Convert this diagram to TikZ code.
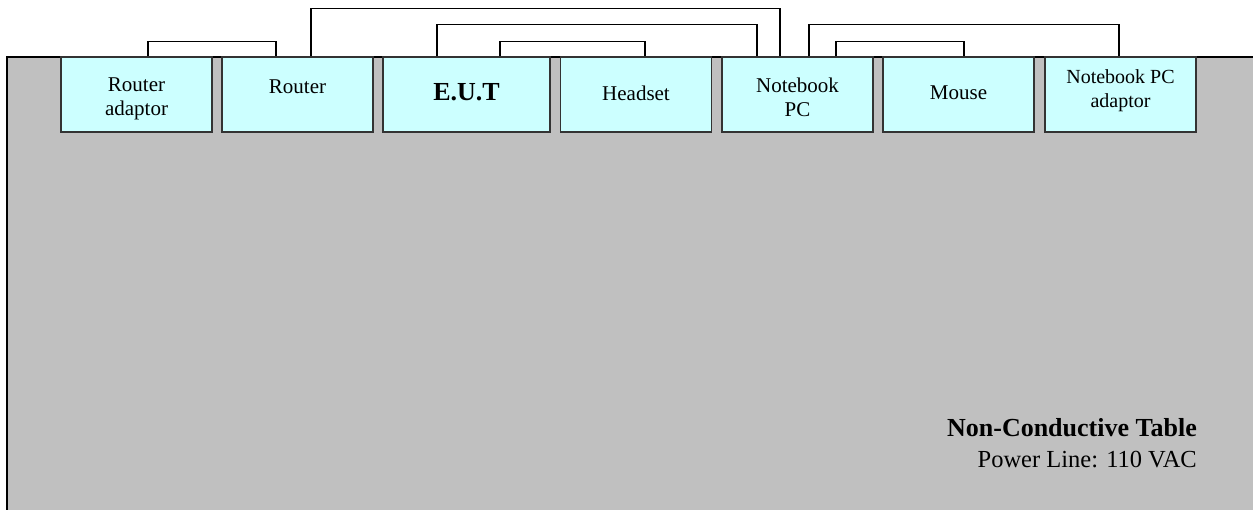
\documentclass[tikz,border=0pt]{standalone}
\usepackage{fontspec}
\setmainfont{Liberation Serif}
\definecolor{tablegray}{HTML}{C0C0C0}
\definecolor{boxcyan}{HTML}{CCFFFF}
\definecolor{boxline}{HTML}{333333}

\begin{document}
\begin{tikzpicture}[x=1pt,y=-1pt,
    box/.style={draw=boxline,line width=1.3pt,fill=boxcyan,minimum width=151pt,minimum height=75pt,inner sep=0pt},
    txt/.style={align=center,inner sep=0pt,font=\fontsize{21}{24}\selectfont},
    cable/.style={black,line width=1.5pt}]
    \useasboundingbox (0,0) rectangle (1253,509);
    \clip (0,0) rectangle (1253,509);
    % table
    \fill[tablegray] (7,57) rectangle (1260,520);
    \draw[black,line width=2pt] (7,520) -- (7,57) -- (1260,57);
    % equipment
    \node[box] (ra) at (136.5,94.5) {};
    \node[box] (rt) at (297.5,94.5) {};
    \node[box,minimum width=167pt] (eut) at (466.5,94.5) {};
    \node[box] (hs) at (636,94.5) {};
    \node[box] (nb) at (797.5,94.5) {};
    \node[box] (ms) at (958.5,94.5) {};
    \node[box] (nba) at (1120.5,94.5) {};
    \node[txt] (ra-t) at (ra.center) [yshift=-4.5] {Router\\adaptor};
    \node[txt] (rt-t) at (rt.center) [yshift=7.5] {Router};
    \node[txt,font=\fontsize{26}{28}\selectfont\bfseries] (eut-t) at (eut.center) [yshift=2] {E.U.T};
    \node[txt] (hs-t) at (hs.center) [yshift=1.5] {Headset};
    \node[txt] (nb-t) at (nb.center) [yshift=-3] {Notebook\\PC};
    \node[txt,font=\fontsize{20}{24}\selectfont] (nba-t) at (nba.center) [yshift=3.5] {Notebook PC\\adaptor};
    \node[txt] (ms-t) at (ms.center) [yshift=1.5] {Mouse};
    % cables
    \draw[cable] ([xshift=11.5]ra.north) -- ++(0,-15) -| ([xshift=-21.5]rt.north);
    \draw[cable] ([xshift=13.5]rt.north) -- ++(0,-48) -| ([xshift=-17.5]nb.north);
    \draw[cable] ([xshift=-29.5]eut.north) -- ++(0,-32) -| ([xshift=-40.5]nb.north);
    \draw[cable] ([xshift=33.5]eut.north) -- ++(0,-15) -| ([xshift=9]hs.north);
    \draw[cable] ([xshift=11.5]nb.north) -- ++(0,-32) -| ([xshift=-1.5]nba.north);
    \draw[cable] ([xshift=38.5]nb.north) -- ++(0,-15) -| ([xshift=5.5]ms.north);
    % notes
    \node[anchor=base east,inner sep=0pt,font=\fontsize{26}{28}\selectfont\bfseries] (tbl) at (1197,436) {Non-Conductive Table};
    \node[anchor=base east,inner sep=0pt,font=\fontsize{24.5}{28}\selectfont] (pwr) at (1197,467) {Power Line: 110 VAC};
\end{tikzpicture}
\end{document}
